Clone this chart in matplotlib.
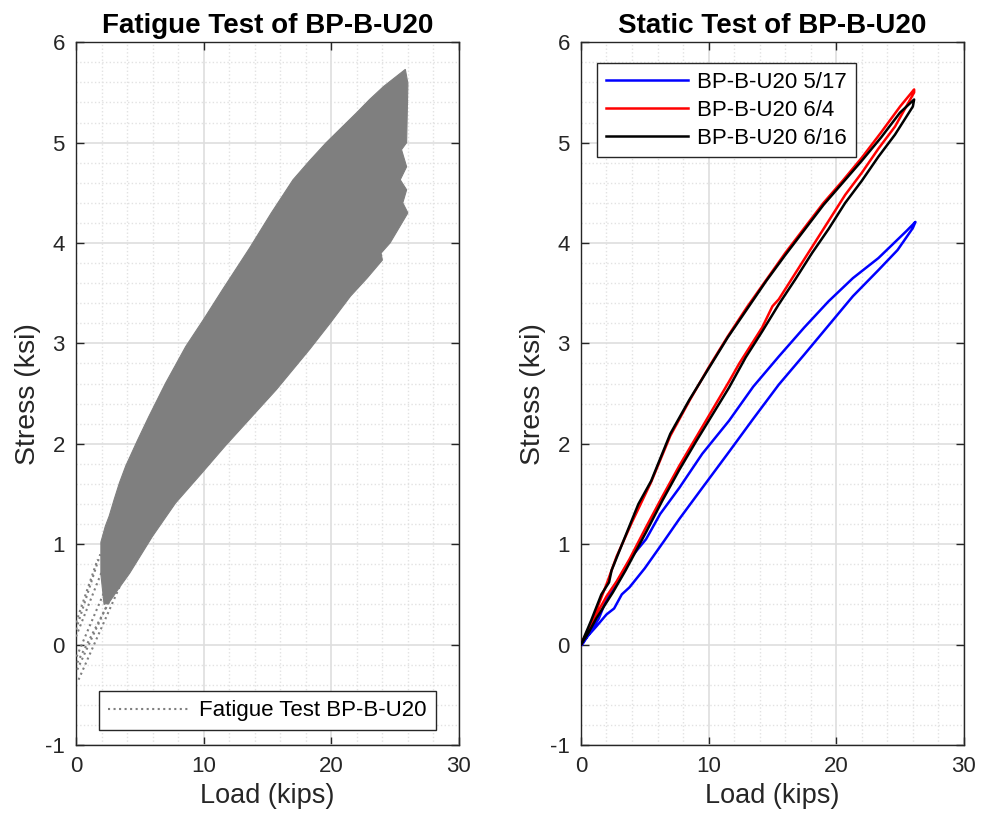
import matplotlib
matplotlib.use('Agg')
import matplotlib.pyplot as plt
from matplotlib.ticker import MultipleLocator

plt.rcParams['font.family'] = ['Liberation Sans', 'DejaVu Sans']
plt.rcParams['axes.unicode_minus'] = False

# ---- fatigue test: outline of the dense band of load cycles ----
fat_load = [2.2, 1.95, 1.95, 2.3, 2.6, 3.0, 3.4, 3.9, 4.8, 5.7, 7.0, 8.6, 10.0, 11.5, 13.6, 15.3,
            17.0, 18.3, 19.6, 20.8, 22.0, 23.0, 24.1, 25.0, 25.8,
            26.0, 25.9, 25.5, 25.9, 25.4, 25.9, 25.6, 26.0, 24.6, 23.9, 24.0,
            22.8, 21.5, 19.9, 18.3, 17.0, 15.7, 13.7, 11.7, 9.8, 7.8, 6.0, 4.2, 3.3, 2.6]
fat_stress = [0.40, 0.70, 1.02, 1.18, 1.28, 1.45, 1.61, 1.78, 2.03, 2.27, 2.60, 2.97, 3.24, 3.54,
              3.95, 4.30, 4.63, 4.82, 5.00, 5.15, 5.30, 5.43, 5.56, 5.65, 5.73,
              5.59, 5.00, 4.93, 4.76, 4.63, 4.53, 4.40, 4.30, 4.00, 3.90, 3.83,
              3.65, 3.47, 3.20, 2.94, 2.74, 2.54, 2.26, 1.98, 1.70, 1.41, 1.08, 0.71, 0.55, 0.42]
# first loading ramps (dotted) from zero up to the band
ramp_load = [[0.0, 1.7], [0.0, 1.9], [0.0, 2.0], [0.05, 2.3], [0.1, 2.7], [0.1, 3.0], [0.2, 3.5]]
ramp_stress = [[0.22, 0.85], [0.15, 0.90], [0.08, 0.72], [-0.12, 0.55], [-0.18, 0.45],
               [-0.25, 0.55], [-0.35, 0.60]]

# ---- static tests: load up, then unload ----
b517_load = [0, 0.5, 1.2, 2.0, 2.6, 3.2, 3.8, 5.0, 6.5, 7.7, 9.5, 11.6, 13.5, 15.5, 17.5, 19.4,
             21.3, 23.3, 24.8, 26.0, 26.2, 25.5, 23.3, 21.3, 19.4, 17.5, 15.5, 13.5, 11.6, 9.5,
             7.7, 6.2, 5.1, 4.0, 3.0, 2.0, 1.4, 0.7, 0.1]
b517_stress = [0, 0.08, 0.18, 0.30, 0.36, 0.50, 0.57, 0.76, 1.03, 1.25, 1.56, 1.92, 2.25, 2.59, 2.89,
               3.18, 3.47, 3.73, 3.93, 4.15, 4.21, 4.12, 3.85, 3.65, 3.42, 3.16, 2.87, 2.57, 2.23,
               1.90, 1.56, 1.30, 1.05, 0.88, 0.66, 0.45, 0.26, 0.12, 0.0]

b64_load = [0, 0.6, 1.3, 2.0, 2.8, 3.8, 5.1, 6.4, 7.7, 9.0, 10.3, 11.6, 12.4, 12.9, 14.2, 15.0,
            15.5, 16.8, 18.1, 19.4, 20.7, 22.0, 23.3, 24.6, 26.1, 26.1, 25.0, 23.5, 22.0, 20.5,
            19.0, 17.5, 16.0, 14.5, 13.0, 11.5, 10.0, 8.5, 7.0, 5.5, 4.0, 2.8, 2.0, 1.2, 0.5, 0.0]
b64_stress = [0, 0.15, 0.32, 0.48, 0.63, 0.85, 1.17, 1.48, 1.78, 2.06, 2.34, 2.62, 2.80, 2.90, 3.16,
              3.37, 3.44, 3.70, 3.96, 4.22, 4.48, 4.70, 4.94, 5.16, 5.50, 5.53, 5.36, 5.10, 4.85,
              4.62, 4.40, 4.15, 3.90, 3.63, 3.36, 3.07, 2.76, 2.43, 2.08, 1.62, 1.22, 0.88, 0.60,
              0.34, 0.13, 0.0]

b616_load = [0, 0.6, 1.2, 1.9, 2.5, 3.5, 5.1, 6.4, 7.7, 9.0, 10.3, 11.6, 12.9, 14.2, 15.5, 16.8,
             18.1, 19.4, 20.7, 22.0, 23.3, 24.6, 26.0, 26.1, 25.0, 23.5, 22.0, 20.5, 19.0, 17.5,
             16.0, 14.5, 13.0, 11.5, 10.0, 8.5, 7.0, 5.5, 4.5, 3.7, 2.4, 2.2, 1.6, 0.8, 0.0]
b616_stress = [0, 0.12, 0.26, 0.40, 0.52, 0.74, 1.12, 1.44, 1.74, 2.02, 2.29, 2.56, 2.86, 3.12, 3.39,
               3.64, 3.90, 4.14, 4.40, 4.62, 4.86, 5.08, 5.36, 5.43, 5.30, 5.05, 4.82, 4.60, 4.38,
               4.13, 3.88, 3.62, 3.34, 3.06, 2.75, 2.44, 2.10, 1.63, 1.40, 1.15, 0.74, 0.62, 0.50,
               0.24, 0.0]

fig = plt.figure(figsize=(9.83, 8.19), dpi=100)
ax1 = fig.add_axes([0.0773, 0.0904, 0.3896, 0.858])
ax2 = fig.add_axes([0.591, 0.0904, 0.3896, 0.858])

gray = '#7f7f7f'
ax1.fill(fat_load, fat_stress, color=gray, lw=0.8, ec=gray, zorder=3)
for i, (xl, yl) in enumerate(zip(ramp_load, ramp_stress)):
    ax1.plot(xl, yl, ':', color=gray, lw=1.5, zorder=3,
             label='Fatigue Test BP-B-U20' if i == 0 else None)

ax2.plot(b517_load, b517_stress, color='#0000ff', lw=1.8, label='BP-B-U20 5/17', zorder=3)
ax2.plot(b64_load, b64_stress, color='#ff0000', lw=1.8, label='BP-B-U20 6/4', zorder=3)
ax2.plot(b616_load, b616_stress, color='#000000', lw=1.8, label='BP-B-U20 6/16', zorder=3)

for ax, title in [(ax1, 'Fatigue Test of BP-B-U20'), (ax2, 'Static Test of BP-B-U20')]:
    ax.set_xlim(0, 30)
    ax.set_ylim(-1, 6)
    ax.xaxis.set_major_locator(MultipleLocator(10))
    ax.yaxis.set_major_locator(MultipleLocator(1))
    ax.xaxis.set_minor_locator(MultipleLocator(2))
    ax.yaxis.set_minor_locator(MultipleLocator(0.2))
    ax.grid(True, which='major', color='#dedede', lw=1.2, zorder=0)
    ax.grid(True, which='minor', color='#e2e2e2', lw=1.0, ls=':', zorder=0)
    ax.set_axisbelow(True)
    ax.tick_params(which='major', direction='in', length=6, width=1, top=True, right=True,
                   labelsize=16, colors='#262626', pad=8)
    ax.tick_params(which='minor', length=0)
    for s in ax.spines.values():
        s.set_color('#262626')
        s.set_linewidth(1)
    ax.set_title(title, fontsize=20, fontweight='bold', pad=7)
    ax.set_xlabel('Load (kips)', fontsize=19.5, color='#262626', labelpad=4)
    ax.set_ylabel('Stress (ksi)', fontsize=20.5, color='#262626', labelpad=3)

leg1 = ax1.legend(loc='lower center', bbox_to_anchor=(0.5, 0.021), borderaxespad=0,
                  fontsize=16, handlelength=3.7, handletextpad=0.4, fancybox=False,
                  framealpha=1, edgecolor='#262626')
leg2 = ax2.legend(loc='upper left', bbox_to_anchor=(0.042, 0.970), borderaxespad=0,
                  fontsize=16, handlelength=3.7, handletextpad=0.4, labelspacing=0.3,
                  fancybox=False, framealpha=1, edgecolor='#262626')
for leg in (leg1, leg2):
    leg.get_frame().set_linewidth(1)

fig.savefig('out.png', dpi=100)
